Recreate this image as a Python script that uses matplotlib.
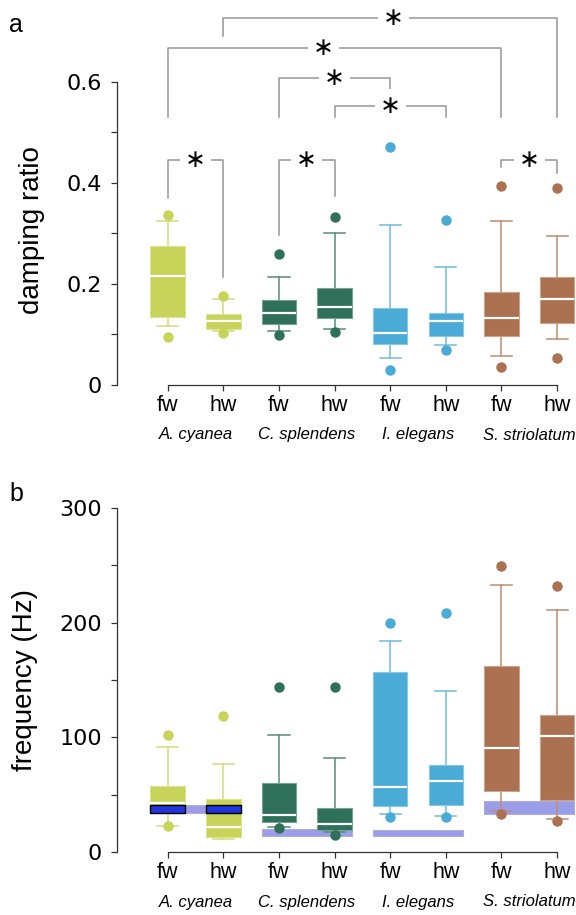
import numpy as np
import matplotlib
matplotlib.use("Agg")
import matplotlib.pyplot as plt
from matplotlib.patches import Rectangle
from matplotlib.ticker import FixedLocator

plt.rcParams["font.family"] = ["Liberation Sans", "DejaVu Sans"]

species = ["A. cyanea", "C. splendens", "I. elegans", "S. striolatum"]
wings = ["fw", "hw"] * 4
colors = ["#c8d35a", "#2e7059", "#4aabd6", "#ab7150"]

# damping ratio (fw, hw per species)
damp_whislo = [0.116, 0.107, 0.106, 0.111, 0.054, 0.080, 0.057, 0.092]
damp_q1 = [0.135, 0.111, 0.120, 0.133, 0.081, 0.097, 0.097, 0.123]
damp_med = [0.216, 0.127, 0.143, 0.155, 0.103, 0.127, 0.133, 0.171]
damp_q3 = [0.275, 0.140, 0.168, 0.191, 0.152, 0.143, 0.185, 0.214]
damp_whishi = [0.324, 0.170, 0.213, 0.300, 0.317, 0.234, 0.324, 0.294]
damp_out_lo = [0.094, 0.103, 0.098, 0.104, 0.030, 0.069, 0.035, 0.054]
damp_out_hi = [0.337, 0.177, 0.259, 0.332, 0.471, 0.327, 0.394, 0.389]

# frequency (Hz)
freq_whislo = [22.9, 11.3, 21.8, 17.4, 33.1, 31.4, 36.0, 28.8]
freq_q1 = [34.5, 12.7, 26.5, 19.4, 40.1, 41.2, 52.8, 45.6]
freq_med = [42.6, 21.8, 32.6, 24.2, 56.9, 61.6, 90.3, 100.8]
freq_q3 = [57.2, 46.5, 59.8, 38.7, 156.9, 75.8, 161.8, 119.4]
freq_whishi = [92.0, 77.0, 102.0, 81.6, 184.2, 140.0, 233.0, 210.7]
freq_out_lo = [22.3, np.nan, 21.0, 15.2, 30.5, 30.5, 33.4, 27.0]
freq_out_hi = [101.7, 118.8, 143.9, 143.9, 199.3, 208.0, 249.3, 232.2]

# wingbeat frequency band per species (Hz)
band_lo = [34.0, 14.2, 13.6, 33.4]
band_hi = [41.0, 20.0, 19.2, 44.7]

# significance brackets: (left, right, top, left leg end, right leg end, star x)
brackets = [
    (1, 7, 0.727, 0.691, 0.531, 4.05),
    (0, 6, 0.667, 0.531, 0.531, 2.8),
    (2, 4, 0.608, 0.531, 0.578, 3.0),
    (3, 5, 0.552, 0.531, 0.531, 4.0),
    (0, 1, 0.4455, 0.371, 0.214, 0.5),
    (2, 3, 0.4455, 0.297, 0.373, 2.5),
    (6, 7, 0.4455, 0.432, 0.419, 6.5),
]

BOX_W = 0.62
pos = np.arange(8)
box_colors = [c for c in colors for _ in range(2)]


def lighten(c, f):
    rgb = np.array(matplotlib.colors.to_rgb(c))
    return tuple(rgb + (1 - rgb) * f)


def draw_boxes(ax, lo, q1, med, q3, hi, out_lo, out_hi):
    stats = []
    for i in range(8):
        fl = [v for v in (out_lo[i], out_hi[i]) if not np.isnan(v)]
        stats.append(dict(med=med[i], q1=q1[i], q3=q3[i], whislo=lo[i],
                          whishi=hi[i], fliers=fl))
    res = ax.bxp(stats, positions=pos, widths=BOX_W, capwidths=0.38,
                 patch_artist=True, manage_ticks=False)
    for i, c in enumerate(box_colors):
        res["boxes"][i].set(facecolor=c, edgecolor=lighten(c, 0.35),
                            linewidth=0.8, zorder=3)
        res["medians"][i].set(color="white", linewidth=1.6, zorder=4)
        for ln in res["whiskers"][2 * i:2 * i + 2] + res["caps"][2 * i:2 * i + 2]:
            ln.set(color=lighten(c, 0.2), linewidth=1.1, zorder=2.5)
        res["fliers"][i].set(marker="o", markersize=6.5, markerfacecolor=c,
                             markeredgecolor=c, zorder=4)
    return res


def style_axis(ax, ymax_spine):
    for s in ("top", "right"):
        ax.spines[s].set_visible(False)
    for s in ("left", "bottom"):
        ax.spines[s].set_color("#333333")
        ax.spines[s].set_linewidth(0.9)
    ax.spines["left"].set_bounds(0, ymax_spine)
    ax.spines["bottom"].set_bounds(0, 7)
    ax.set_xlim(-0.912, 7.34)
    ax.set_xticks(pos)
    ax.set_xticklabels(wings)
    ax.tick_params(axis="x", length=4, width=0.9, color="#333333",
                   labelsize=15.5, pad=3)
    ax.tick_params(axis="y", which="both", length=4, width=0.9,
                   color="#333333", labelsize=16, pad=7)
    for lab in ax.get_yticklabels():
        lab.set_family("DejaVu Sans")
    for i, sp in enumerate(species):
        ax.annotate(sp, xy=(2 * i + 0.5, 0), xycoords=("data", "axes fraction"),
                    xytext=(0, -36), textcoords="offset points", ha="center",
                    va="center", fontsize=12, style="italic", annotation_clip=False)


fig = plt.figure(figsize=(5.76, 9.15), dpi=100)

# panel a
ax1 = fig.add_axes([117 / 576, 1 - 385 / 915, 459 / 576, 375 / 915])
draw_boxes(ax1, damp_whislo, damp_q1, damp_med, damp_q3, damp_whishi,
           damp_out_lo, damp_out_hi)
ax1.set_ylim(0, 0.742)
ax1.set_yticks([0, 0.2, 0.4, 0.6])
ax1.set_yticklabels(["0", "0.2", "0.4", "0.6"])
ax1.yaxis.set_minor_locator(FixedLocator([0.1, 0.3, 0.5]))
style_axis(ax1, 0.6)
ax1.set_ylabel("damping ratio", fontsize=20)
ax1.yaxis.set_label_coords(-0.157, 0.413)

for x1, x2, yt, yl, yr, sx in brackets:
    ax1.plot([x1, x1, x2, x2], [yl, yt, yt, yr], color="#969696", lw=1.1,
             clip_on=False, zorder=1)
    ax1.text(sx, yt, "\u2217", ha="center", va="center", fontsize=18,
             family="DejaVu Sans", clip_on=False, zorder=2,
             bbox=dict(boxstyle="square,pad=0.2", fc="white", ec="none"))

# panel b
ax2 = fig.add_axes([117 / 576, 1 - 852 / 915, 459 / 576, 344 / 915])
draw_boxes(ax2, freq_whislo, freq_q1, freq_med, freq_q3, freq_whishi,
           freq_out_lo, freq_out_hi)
for i in range(4):
    x0 = 2 * i - BOX_W / 2
    ax2.add_patch(Rectangle((x0, band_lo[i]), 1 + BOX_W, band_hi[i] - band_lo[i],
                            facecolor="#9b9cea", edgecolor="#b0b0c8",
                            linewidth=0.8, zorder=2))
# overlap with A. cyanea boxes
for j in (0, 1):
    ax2.add_patch(Rectangle((j - BOX_W / 2, band_lo[0]), BOX_W,
                            band_hi[0] - band_lo[0], facecolor="#2236e0",
                            edgecolor="black", linewidth=1.0, zorder=5))
ax2.set_ylim(0, 300)
ax2.set_yticks([0, 100, 200, 300])
ax2.yaxis.set_minor_locator(FixedLocator([50, 150, 250]))
style_axis(ax2, 300)
ax2.set_ylabel("frequency (Hz)", fontsize=20)
ax2.yaxis.set_label_coords(-0.172, 0.5)

fig.text(16 / 576, 1 - 25 / 915, "a", ha="center", va="center", fontsize=18)
fig.text(16 / 576, 1 - 494 / 915, "b", ha="center", va="center", fontsize=18)

fig.savefig("out.png", dpi=100)
